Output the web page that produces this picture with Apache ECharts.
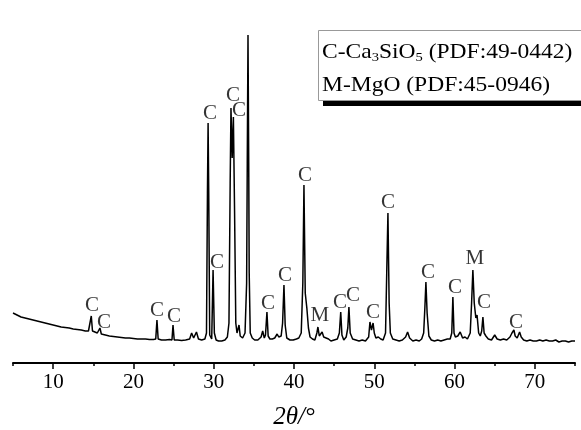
<!DOCTYPE html>
<html lang="en">
<head>
    <meta charset="UTF-8">
    <title>XRD</title>
    <script src="https://cdn.jsdelivr.net/npm/echarts@6/dist/echarts.min.js"></script>
    <style>
        html, body { margin: 0; padding: 0; background: #fff; }
    </style>
</head>
<body>
<div id="main" style="width: 581px;height:430px;"></div>
<script type="text/javascript">
    // 2θ 位置 (°)
    var twoTheta = [
        5.0,5.5,6.0,6.5,7.0,7.5,8.0,8.5,9.0,9.5,
        10.0,10.5,11.0,11.5,12.0,12.5,13.0,13.5,14.0,14.4,
        14.6,14.75,14.9,15.2,15.5,15.7,15.83,16.0,16.5,17.0,
        17.5,18.0,18.5,19.0,19.5,20.0,20.5,21.0,21.5,22.0,
        22.5,22.78,22.93,23.08,23.5,24.0,24.5,24.8,24.93,25.08,
        25.5,26.0,26.5,27.0,27.25,27.5,27.85,28.1,28.5,28.9,
        29.1,29.22,29.3,29.38,29.5,29.75,29.92,30.08,30.3,30.6,31.0,31.4,
        31.7,31.9,32.05,32.15,32.3,32.45,32.6,32.75,32.9,33.0,
        33.15,33.3,33.6,33.9,34.1,34.18,34.27,34.36,34.42,34.55,34.8,35.1,
        35.5,35.9,36.1,36.3,36.45,36.63,36.78,37.0,37.3,37.6,
        37.9,38.1,38.4,38.58,38.75,38.9,39.1,39.5,39.9,40.3,
        40.6,40.9,41.1,41.24,41.4,41.6,41.8,42.0,42.3,42.6,
        42.85,42.98,43.15,43.5,43.7,44.0,44.3,44.6,45.0,45.4,
        45.65,45.82,45.97,46.2,46.5,46.7,46.84,47.0,47.3,47.7,
        48.1,48.5,48.9,49.3,49.46,49.65,49.85,50.0,50.2,50.5,
        50.8,51.1,51.4,51.55,51.7,51.85,52.0,52.3,52.7,53.1,
        53.5,53.9,54.15,54.4,54.8,55.2,55.6,55.9,56.15,56.3,
        56.43,56.58,56.8,57.1,57.5,57.9,58.3,58.7,59.1,59.45,
        59.65,59.79,59.93,60.1,60.4,60.7,61.0,61.3,61.6,61.95,
        62.12,62.28,62.45,62.65,62.8,63.0,63.2,63.38,63.53,63.68,
        63.9,64.2,64.6,65.0,65.3,65.7,66.1,66.5,66.9,67.15,
        67.39,67.55,67.8,68.1,68.3,68.6,69.0,69.4,69.8,70.2,
        70.6,71.0,71.4,71.8,72.2,72.6,73.0,73.4,73.8,74.2,
        74.6,75.0
    ];
    // 强度 (任意单位)
    var intensity = [
        50,48,46,45,44,43,42,41,40,39,
        38,37,36,35.5,35,34,33.5,33,32,32,
        31.5,47,32,31,30,30,35,29,28,27,
        26.5,26,25.5,25,25,24.5,24,24,24,23.5,
        23.5,24,43,24,23,23,23.5,23,38,23,
        23,22.5,23,24,30,25,31,24,23,24,
        30,170,240,170,28,24,93,30,23,22,22,23,
        26,40,180,255,205,246,150,40,30,28,
        38,27,25,30,80,200,328,200,90,30,25,23,
        23,26,32,25,28,51,27,24,24,25,
        29,26,27,40,78,38,25,23,23,24,
        25,30,80,178,70,55,35,26,24,23,
        30,36,27,31,26,25,24,22,23,24,
        30,51,28,23,26,35,56,30,24,23,
        22,23,22,26,41,33,40,30,25,26,
        24,23,30,90,150,60,30,24,23,22,
        23,26,31,25,22,23,22,24,30,55,
        81,50,27,23,22,23,22,23,24,24,
        30,66,30,26,27,31,25,26,24,30,
        60,93,60,45,48,30,27,32,46,30,
        27,24,23,28,24,23,24,23,26,30,
        33,27,25,31,26,23,22,23,22,22,
        23,22,23,22,22,23,21,22,22,21,
        22,22
    ];
    // 物相标记
    var markTheta = [14.84,16.33,22.93,25.05,29.53,32.4,33.15,34.39,30.4,36.76,38.87,
                     41.36,43.23,45.72,47.34,49.83,51.7,56.68,60.04,62.53,63.66,67.64];
    var markLevel = [58,41,53,47,250,268,253,336,101,60,88,
                     188,48,61,68,51,161,91,76,105,61,41];
    var markText  = ['C','C','C','C','C','C','C','C','C','C','C',
                     'C','M','C','C','C','C','C','C','M','C','C'];
    // 刻度
    var majorTicks = [10,20,30,40,50,60,70];
    var minorTicks = [5,15,25,35,45,55,65,75];

    var serif = '"Liberation Serif", "Times New Roman", serif';

    var pattern = [];
    for (var i = 0; i < twoTheta.length; i++) {
        pattern.push([twoTheta[i], intensity[i]]);
    }
    var marks = [];
    for (var j = 0; j < markTheta.length; j++) {
        marks.push([markTheta[j], markLevel[j], markText[j]]);
    }

    // 图例框里的文字样式
    var boxRich = {
        n: {fontFamily: serif, fontSize: 21, color: '#000', lineHeight: 26},
        s: {fontFamily: serif, fontSize: 13, color: '#000', lineHeight: 26, padding: [12, 0, 0, 0]}
    };

    var myChart = echarts.init(document.getElementById('main'));
    myChart.setOption({
        animation: false,
        graphic: [
            {type: 'rect', left: 323, top: 36, shape: {width: 300, height: 70}, style: {fill: '#000'}, z: 10},
            {type: 'rect', left: 318, top: 30, shape: {width: 300, height: 70},
                style: {fill: '#fff', stroke: '#999', lineWidth: 1}, z: 11},
            {type: 'text', x: 322, y: 52, scaleX: 1.12, z: 12,
                style: {text: '{n|C-Ca}{s|3}{n|SiO}{s|5}{n| (PDF:49-0442)}', rich: boxRich, verticalAlign: 'middle'}},
            {type: 'text', x: 322, y: 85, scaleX: 1.12, z: 12,
                style: {text: '{n|M-MgO (PDF:45-0946)}', rich: boxRich, verticalAlign: 'middle'}}
        ],
        grid: {
            left: 13,
            right: 6,
            top: 33,
            bottom: 67,
            containLabel: false,
            outerBoundsMode: 'none'
        },
        xAxis: [{
            type: 'value',
            min: 5,
            max: 75,
            interval: 5,
            name: '2θ/°',
            nameLocation: 'middle',
            nameGap: 42,
            nameTextStyle: {fontFamily: serif, fontSize: 25, fontStyle: 'italic', color: '#000'},
            axisLine: {lineStyle: {color: '#000', width: 2}},
            axisTick: {customValues: majorTicks, length: 6, lineStyle: {color: '#000', width: 1.5}},
            axisLabel: {customValues: majorTicks, margin: 9, fontFamily: serif, fontSize: 21, color: '#000'},
            splitLine: {show: false}
        }, {
            type: 'value',
            min: 5,
            max: 75,
            interval: 5,
            position: 'bottom',
            axisLine: {show: false},
            axisTick: {customValues: minorTicks, length: 3, lineStyle: {color: '#000', width: 1.5}},
            axisLabel: {show: false},
            splitLine: {show: false}
        }],
        yAxis: {
            type: 'value',
            min: 0,
            max: 330,
            show: false
        },
        series: [{
            type: 'line',
            data: pattern,
            symbol: 'none',
            lineStyle: {color: '#000', width: 1.5},
            z: 2
        }, {
            type: 'scatter',
            data: marks,
            symbolSize: 0,
            label: {
                show: true,
                position: 'inside',
                formatter: function (p) { return p.data[2]; },
                fontFamily: serif,
                fontSize: 21,
                color: '#000'
            },
            z: 3
        }]
    });
</script>
</body>
</html>
